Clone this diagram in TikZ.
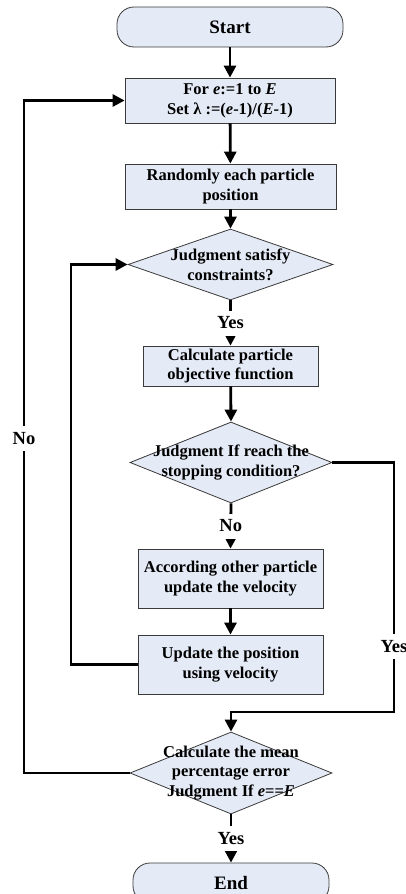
\documentclass[tikz,border=0pt]{standalone}
\usepackage{fontspec}
\setmainfont{Liberation Serif}
\usetikzlibrary{arrows.meta,shapes.geometric}
\definecolor{boxfill}{HTML}{E5EBF6}
\definecolor{boxline}{HTML}{3A3A3A}
\tikzset{
  base/.style={draw=boxline, line width=0.8pt, fill=boxfill, inner sep=0pt,
    font=\fontsize{16.5}{19.8}\selectfont\bfseries, align=center},
  stepbox/.style={base, rectangle},
  term/.style={base, rectangle, rounded corners=17pt, font=\fontsize{19}{22}\selectfont\bfseries},
  decide/.style={base, diamond},
  dtext/.style={inner sep=0pt, font=\fontsize{16.5}{19.8}\selectfont\bfseries, align=center},
  arr/.style={line width=2.8pt, -{Triangle[length=12pt,width=12pt]}},
  lab/.style={fill=white, inner sep=2pt, minimum height=25pt, font=\fontsize{18.5}{20}\selectfont\bfseries},
}
\begin{document}
\begin{tikzpicture}[x=1pt,y=-1pt]
\useasboundingbox (0,0) rectangle (406,894);
% nodes
\node[term, minimum width=226pt, minimum height=40pt] (start) at (230,27) {Start};
\node[stepbox, minimum width=210pt, minimum height=45pt] (b1) at (230,100.5)
  {For \textit{e}:=1 to \textit{E}\\Set λ :=(\textit{e}-1)/(\textit{E}-1)};
\node[stepbox, minimum width=211pt, minimum height=45pt] (b2) at (230.5,186.5)
  {Randomly each particle\\position};
\node[decide, minimum width=205pt, minimum height=71pt] (d1) at (230.5,264.5) {};
\node[dtext] (t1) at (d1.center) {Judgment satisfy\\constraints?};
\node[stepbox, minimum width=175pt, minimum height=40pt] (b3) at (230.5,366)
  {Calculate particle\\objective function};
\node[decide, minimum width=202pt, minimum height=81pt] (d2) at (231,462.5) {};
\node[dtext] (t2) at (d2.center) {Judgment If reach the\\stopping condition?};
\node[stepbox, minimum width=185pt, minimum height=59pt] (b4) at (230.5,578.5)
  {According other particle\\update the velocity};
\node[stepbox, minimum width=185pt, minimum height=59pt] (b5) at (230.5,664.5)
  {Update the position\\using velocity};
\node[decide, minimum width=202pt, minimum height=82pt] (d3) at (231,773) {};
\node[dtext] (t3) at (d3.center) {Calculate the mean\\percentage error\\Judgment If \textit{e}==\textit{E}};
\node[term, minimum width=196pt, minimum height=40pt] (end) at (231,883) {End};
% helper coordinates
\coordinate (l1) at (71,464);
\coordinate (r1) at (394,712);
\coordinate (l2) at (24,438.5);
% connectors
\draw[arr] (start) -- (b1);
\draw[arr] (b1) -- (b2);
\draw[arr] (b2) -- (d1.north);
\draw[arr] (d1.south) -- node[lab] (y1) {Yes} (b3.north);
\draw[arr] (b3) -- (d2.north);
\draw[arr] (d2.south) -- node[lab] (n1) {No} (b4.north);
\draw[arr] (b4) -- (b5);
\draw[arr] (b5.west) -- (b5.west -| l1) |- (d1.west);
\draw[arr] (d2.east) -| (r1) -| (d3.north);
\node[lab] (y2) at (394,646.5) {Yes};
\draw[arr] (d3.west) -| (l2) |- (b1.west);
\node[lab] (n2) at (l2) {No};
\draw[arr] (d3.south) -- node[lab] (y3) {Yes} (end.north);
\end{tikzpicture}
\end{document}
